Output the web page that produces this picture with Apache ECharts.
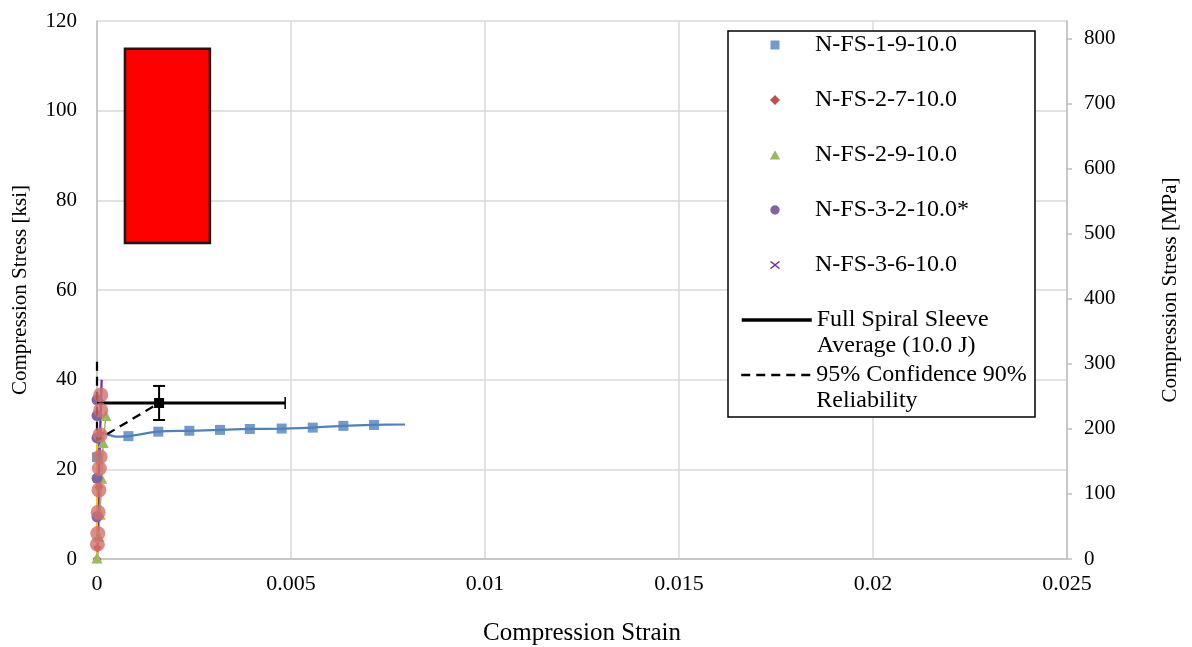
<!DOCTYPE html>
<html><head><meta charset="utf-8">
<script src="https://cdn.jsdelivr.net/npm/echarts@6/dist/echarts.min.js"></script>
<style>html,body{margin:0;padding:0;background:#fff}#c{width:1192px;height:647px}</style>
</head><body><div id="c"></div><script>
const FONT = '"Liberation Serif","Times New Roman",serif';

// ---- data (strain, stress in ksi) ----
const fs19CurveStrain = [0, 0.00001, 0.00002, 0.00004, 0.00008, 0.00015, 0.0003, 0.0005, 0.00081, 0.00158, 0.00238, 0.00317, 0.00394, 0.00476, 0.00556, 0.00635, 0.00714, 0.00794];
const fs19CurveStress = [0, 5, 12, 22.7, 27.6, 28.1, 27.7, 27.3, 27.4, 28.4, 28.6, 28.8, 29.0, 29.1, 29.3, 29.7, 29.9, 30.0];
const fs19MarkStrain = [0, 0.00081, 0.00158, 0.00238, 0.00317, 0.00394, 0.00476, 0.00556, 0.00635, 0.00714];
const fs19MarkStress = [22.7, 27.4, 28.4, 28.6, 28.8, 29.0, 29.1, 29.3, 29.7, 29.9];

const fs27Strain = [0, 0.00001, 0.00003, 0.00005, 0.00008, 0.0001];
const fs27Stress = [0, 2.5, 10, 16, 28, 35];

const fs29Strain = [0, 0.00004, 0.00008, 0.00012, 0.00016, 0.00023];
const fs29Stress = [0.2, 5, 10, 18, 26, 32];

const fs32Strain = [0, 0, 0, 0, 0];
const fs32Stress = [9.4, 18, 27, 32, 35.5];

const fs36Strain = [0, 0.00003, 0.00007, 0.00012];
const fs36Stress = [0, 10, 25, 40];

const extraLineStrain = [0, 0];
const extraLineStress = [0, 35];

const extraCircleStrain = [0.00001, 0.00002, 0.00003, 0.00005, 0.00006, 0.00008, 0.00008, 0.000095, 0.000095];
const extraCircleStress = [3.3, 5.7, 10.4, 15.4, 20.2, 22.8, 27.7, 33.2, 36.6];

const avgStrain = [0.0016];
const avgStress = [34.8];
const avgStrainErr = [0.00325];
const avgStressErr = [3.8];

const confStrain = [0, 0, 0.0016];
const confStress = [44, 26.5, 34.8];

const photoStrain = [0.00072, 0.00291];
const photoStress = [70.5, 113.8];

const ksiTicks = [0, 20, 40, 60, 80, 100, 120];
const mpaTicks = [0, 100, 200, 300, 400, 500, 600, 700, 800];
const strainTicks = [0, 0.005, 0.01, 0.015, 0.02, 0.025];
const KSI_TO_MPA = 6.89476;

const zip = (a, b) => a.map((v, i) => [v, b[i]]);

const NAMES = {
  s19: 'N-FS-1-9-10.0', s27: 'N-FS-2-7-10.0', s29: 'N-FS-2-9-10.0',
  s32: 'N-FS-3-2-10.0*', s36: 'N-FS-3-6-10.0',
  avg: 'Full Spiral Sleeve Average (10.0 J)', conf: '95% Confidence 90% Reliability'
};
const legendLines = {};
legendLines[NAMES.avg] = ['Full Spiral Sleeve', 'Average (10.0 J)'];
legendLines[NAMES.conf] = ['95% Confidence 90%', 'Reliability'];
const legendFmt = n => '{e| }\n' + legendLines[n].map(s => '{t|' + s + '}').join('\n');
const legendRich = {
  e: { fontFamily: FONT, fontSize: 24, lineHeight: 26 },
  t: { fontFamily: FONT, fontSize: 24, lineHeight: 26, color: '#000' }
};
// legend marker shapes drawn inside a 70x10 frame (frame corners are zero-area)
const FRAME = 'M0,0L0,0ZM70,10L70,10Z';
const ICONS = {
  square: 'path://' + FRAME + 'M30.5,0.5L39.5,0.5L39.5,9.5L30.5,9.5Z',
  diamond: 'path://' + FRAME + 'M35,0L40,5L35,10L30,5Z',
  triangle: 'path://' + FRAME + 'M35,0.3L40.2,9.5L29.8,9.5Z',
  circle: 'path://' + FRAME + 'M35,0.3A4.7,4.7,0,1,1,34.99,0.3Z',
  cross: 'path://' + FRAME + 'M31,1L35,4L39,1L40,2L36,5L40,8L39,9L35,6L31,9L30,8L34,5L30,2Z'
};

const chart = echarts.init(document.getElementById('c'));
const axisLbl = { color: '#000', fontFamily: FONT };

const option = {
  animation: false,
  backgroundColor: '#fff',
  grid: { left: 97, right: 125, top: 21, bottom: 88, outerBoundsMode: 'none', containLabel: false },
  xAxis: {
    type: 'value', min: strainTicks[0], max: strainTicks[strainTicks.length - 1], interval: strainTicks[1] - strainTicks[0],
    name: 'Compression Strain', nameLocation: 'middle', nameGap: 62,
    nameTextStyle: { color: '#000', fontFamily: FONT, fontSize: 25 },
    axisLine: { show: true, lineStyle: { color: '#bfbfbf', width: 1.5 } },
    axisTick: { show: false },
    axisLabel: Object.assign({ fontSize: 22, margin: 14 }, axisLbl),
    splitLine: { show: true, lineStyle: { color: '#d9d9d9', width: 1.5 } }
  },
  yAxis: [{
    type: 'value', min: ksiTicks[0], max: ksiTicks[ksiTicks.length - 1], interval: ksiTicks[1] - ksiTicks[0],
    name: 'Compression Stress [ksi]', nameLocation: 'middle', nameGap: 66, nameRotate: 90,
    nameTextStyle: { color: '#000', fontFamily: FONT, fontSize: 21 },
    axisLine: { show: true, lineStyle: { color: '#bfbfbf', width: 1.5 } },
    axisTick: { show: false },
    axisLabel: Object.assign({ fontSize: 21, margin: 20 }, axisLbl),
    splitLine: { show: true, lineStyle: { color: '#d9d9d9', width: 1.5 } }
  }, {
    type: 'value', position: 'right', min: 0, max: ksiTicks[ksiTicks.length - 1] * KSI_TO_MPA,
    name: 'Compression Stress [MPa]', nameLocation: 'middle', nameGap: 93, nameRotate: 90,
    nameTextStyle: { color: '#000', fontFamily: FONT, fontSize: 21 },
    axisLine: { show: true, lineStyle: { color: '#bfbfbf', width: 1.5 } },
    axisTick: { show: true, inside: false, length: 5, lineStyle: { color: '#bfbfbf', width: 1.5 }, customValues: mpaTicks },
    axisLabel: Object.assign({ fontSize: 21, margin: 17, customValues: mpaTicks }, axisLbl),
    splitLine: { show: false }
  }],
  legend: [{
    left: 728, top: 31, orient: 'vertical', selectedMode: false,
    padding: [1, 66, 139, 12], itemGap: 29, itemWidth: 70, itemHeight: 10,
    backgroundColor: '#fff', borderColor: '#000', borderWidth: 1.5,
    textStyle: { color: '#000', fontFamily: FONT, fontSize: 24, lineHeight: 26 },
    data: [
      { name: NAMES.s19, icon: ICONS.square },
      { name: NAMES.s27, icon: ICONS.diamond },
      { name: NAMES.s29, icon: ICONS.triangle },
      { name: NAMES.s32, icon: ICONS.circle },
      { name: NAMES.s36, icon: ICONS.cross }
    ]
  }, {
    left: 740, top: 281, orient: 'vertical', selectedMode: false, padding: 0,
    itemWidth: 70, itemHeight: 14,
    itemStyle: { opacity: 0 },
    lineStyle: { width: 3.5, color: '#000' },
    textStyle: { color: '#000', fontFamily: FONT, fontSize: 24, lineHeight: 26, rich: legendRich },
    formatter: legendFmt,
    data: [NAMES.avg]
  }, {
    left: 740, top: 336, orient: 'vertical', selectedMode: false, padding: 0,
    itemWidth: 70, itemHeight: 14,
    itemStyle: { opacity: 0 },
    lineStyle: { width: 2.5, color: '#000', type: [9, 6] },
    textStyle: { color: '#000', fontFamily: FONT, fontSize: 24, lineHeight: 26, rich: legendRich },
    formatter: legendFmt,
    data: [NAMES.conf]
  }],
  series: [
    {
      name: NAMES.s19, type: 'scatter', symbol: 'rect', symbolSize: 10, z: 3,
      itemStyle: { color: '#4F81BD' }, data: zip(fs19MarkStrain, fs19MarkStress), clip: false
    },
    {
      name: NAMES.s19, type: 'line', smooth: 0.3, showSymbol: false, symbol: 'none', z: 2,
      lineStyle: { color: '#4F81BD', width: 2.25 }, itemStyle: { color: '#4F81BD' },
      data: zip(fs19CurveStrain, fs19CurveStress), clip: false
    },
    {
      name: NAMES.s27, type: 'line', symbol: 'diamond', symbolSize: 9, z: 3,
      lineStyle: { color: '#C0504D', width: 1.5 }, itemStyle: { color: '#C0504D' },
      data: zip(fs27Strain, fs27Stress), clip: false
    },
    {
      name: NAMES.s29, type: 'line', symbol: 'triangle', symbolSize: 11, z: 3,
      lineStyle: { color: '#9BBB59', width: 1.5 }, itemStyle: { color: '#9BBB59' },
      data: zip(fs29Strain, fs29Stress), clip: false
    },
    {
      name: NAMES.s32, type: 'line', symbol: 'circle', symbolSize: 11, z: 3,
      lineStyle: { color: '#8064A2', width: 1.5 }, itemStyle: { color: '#8064A2' },
      data: zip(fs32Strain, fs32Stress), clip: false
    },
    {
      name: NAMES.s36, type: 'line', symbol: 'none', z: 3,
      lineStyle: { color: '#7030A0', width: 2.25 }, itemStyle: { color: '#7030A0' },
      data: zip(fs36Strain, fs36Stress), clip: false
    },
    {
      name: 'extra-line', type: 'line', symbol: 'none', z: 3,
      lineStyle: { color: '#FFC000', width: 2 }, itemStyle: { color: '#FFC000' },
      data: zip(extraLineStrain, extraLineStress), clip: false
    },
    {
      name: NAMES.avg, type: 'line', symbol: 'none', z: 4,
      lineStyle: { color: '#000', width: 3 }, itemStyle: { color: '#000' },
      data: avgStrain.map((s, i) => [Math.max(0, s - avgStrainErr[i]), avgStress[i]])
        .concat(avgStrain.map((s, i) => [s + avgStrainErr[i], avgStress[i]])),
      clip: false,
      markArea: {
        silent: true,
        itemStyle: { color: '#FF0000', borderColor: '#1a1a1a', borderWidth: 2.5 },
        data: [[{ coord: [photoStrain[0], photoStress[1]] }, { coord: [photoStrain[1], photoStress[0]] }]]
      }
    },
    {
      name: NAMES.conf, type: 'line', symbol: 'none', z: 4,
      lineStyle: { color: '#000', width: 2.25, type: [9, 6] }, itemStyle: { color: '#000' },
      data: zip(confStrain, confStress), clip: false
    },
    {
      name: 'avg-errorbars', type: 'custom', z: 5,
      data: avgStrain.map((s, i) => [s, avgStress[i], avgStress[i] - avgStressErr[i], avgStress[i] + avgStressErr[i], s + avgStrainErr[i]]),
      renderItem: (params, api) => {
        const p = api.coord([api.value(0), api.value(1)]);
        const lo = api.coord([api.value(0), api.value(2)]);
        const hi = api.coord([api.value(0), api.value(3)]);
        const r = api.coord([api.value(4), api.value(1)]);
        const cap = 6, st = { stroke: '#000', lineWidth: 2 };
        return {
          type: 'group', children: [
            { type: 'line', shape: { x1: lo[0], y1: lo[1], x2: hi[0], y2: hi[1] }, style: st },
            { type: 'line', shape: { x1: lo[0] - cap, y1: lo[1], x2: lo[0] + cap, y2: lo[1] }, style: st },
            { type: 'line', shape: { x1: hi[0] - cap, y1: hi[1], x2: hi[0] + cap, y2: hi[1] }, style: st },
            { type: 'line', shape: { x1: r[0], y1: r[1] - cap, x2: r[0], y2: r[1] + cap }, style: { stroke: '#000', lineWidth: 1.5 } },
            { type: 'rect', shape: { x: p[0] - 5, y: p[1] - 5, width: 10, height: 10 }, style: { fill: '#000' } }
          ]
        };
      }
    },
    {
      name: 'extra-circles', type: 'scatter', symbol: 'circle', symbolSize: 15, z: 6,
      itemStyle: { color: '#D2706E' }, data: zip(extraCircleStrain, extraCircleStress), clip: false
    }
  ]
};
chart.setOption(option);
</script></body></html>
